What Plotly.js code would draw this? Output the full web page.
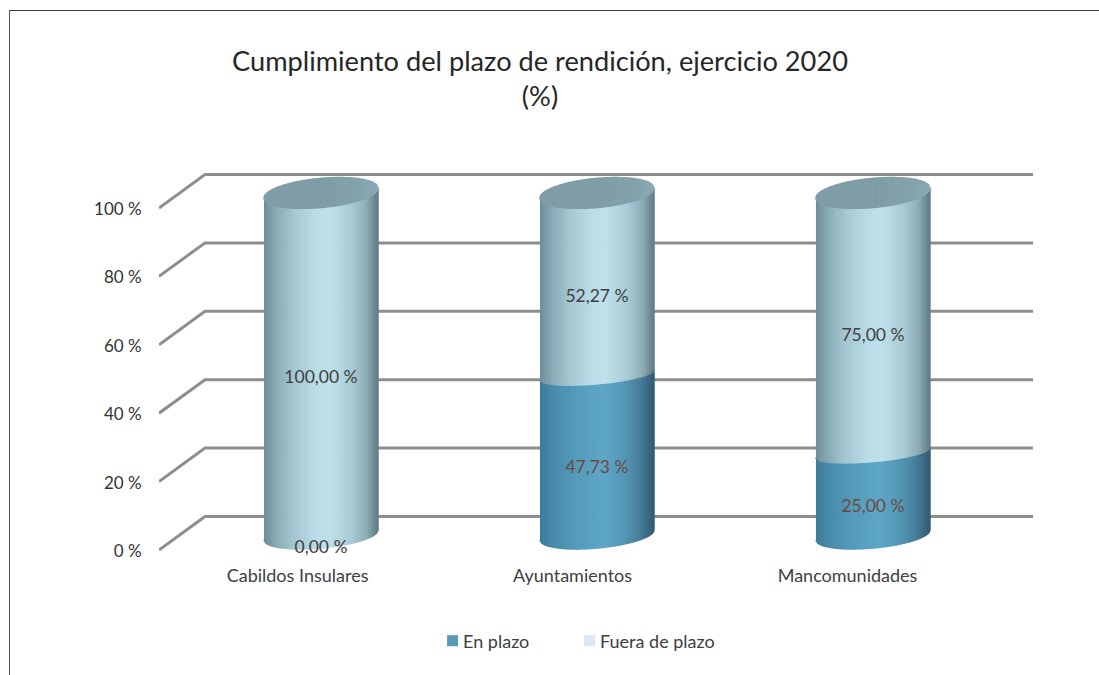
<!DOCTYPE html>
<html>
<head>
<meta charset="utf-8">
<script src="https://cdn.plot.ly/plotly-3.0.1.min.js"></script>
<style>
html,body{margin:0;padding:0;background:#fff;overflow:hidden}
#chart{position:absolute;left:0;top:0;width:1099px;height:675px}
#frame{position:absolute;left:9px;top:10px;width:1090px;height:665px;box-sizing:border-box;border-top:1.5px solid #3c3c3c;border-left:1.5px solid #555;pointer-events:none}
</style>
</head>
<body>
<div id="chart"></div>
<div id="frame"></div>
<script>
// ---- data ----
const categories = ['Cabildos Insulares', 'Ayuntamientos', 'Mancomunidades'];
const enPlazo = [0, 47.73, 25];
const fueraDePlazo = [100, 52.27, 75];
const yTicks = [0, 20, 40, 60, 80, 100];
const yTickLabels = ['0 %', '20 %', '40 %', '60 %', '80 %', '100 %'];
const fmt = v => v.toFixed(2).replace('.', ',') + ' %';

// ---- 3D look (drawn in axis units) ----
const PXY = 3.42, PXX = 276;              // pixels per unit
const yRange = [-2.924, 114.035], xRange = [-0.587, 2.58];
const depthWall = 9.8;                    // back wall offset of the gridlines
const xBack = (205 - 159) / PXX;          // horizontal offset of the wall
const halfW = 57 / PXX;
const tilt = 5 / PXY;
const endDepth = 4.4, midDepth = 3.5;
const bBottom = 13 / PXY, bMid = 9 / PXY, bTop = 14.5 / PXY;

const lightStops = [[-1,'#6d8c97'],[-0.8,'#87a9b4'],[-0.5,'#a3c6d1'],[-0.1,'#b9dce6'],[0.15,'#bee1eb'],[0.55,'#a8cad4'],[0.8,'#8dacb6'],[1,'#5f7b85']];
const darkStops  = [[-1,'#3b7b99'],[-0.8,'#4789a8'],[-0.4,'#5499b9'],[0.1,'#5ea6c7'],[0.45,'#5599b8'],[0.75,'#477f9b'],[1,'#315a70']];
const topStops   = [[-1,'#7f9da8'],[0,'#7f9da7'],[0.6,'#82a1ab'],[1,'#89a9b4']];

function hex(c){return [1,3,5].map(i=>parseInt(c.substr(i,2),16));}
function shade(stops,u){
  for(let i=1;i<stops.length;i++){
    if(u<=stops[i][0]){
      const t=(u-stops[i-1][0])/(stops[i][0]-stops[i-1][0]);
      const a=hex(stops[i-1][1]),b=hex(stops[i][1]);
      return 'rgb('+a.map((x,k)=>Math.round(x+(b[k]-x)*t)).join(',')+')';
    }
  }
  return stops[stops.length-1][1];
}
// level: axis value of the ellipse centre; b: half height; sign -1 = front edge
const edge = (level,b,sign) => u => level + tilt*u + sign*b*Math.sqrt(Math.max(0,1-u*u));

const traces = [];

// gridlines: front-left corner -> wall -> right end
yTicks.forEach(v => traces.push({
  x:[xRange[0], xRange[0]+xBack, xRange[1]],
  y:[v, v+depthWall, v+depthWall],
  mode:'lines', line:{color:'#8e8e8e',width:3}, hoverinfo:'skip', showlegend:false, cliponaxis:false
}));

function strips(cx, lower, upper, stops){
  const N=44, sub=3;
  for(let i=0;i<N;i++){
    const u0=-1+2*i/N, u1=-1+2*(i+1)/N, xs=[], ys=[];
    for(let k=0;k<=sub;k++){const u=u0+(u1-u0)*k/sub; xs.push(cx+halfW*u); ys.push(lower(u));}
    for(let k=sub;k>=0;k--){const u=u0+(u1-u0)*k/sub; xs.push(cx+halfW*u); ys.push(upper(u));}
    const col=shade(stops,(u0+u1)/2);
    traces.push({x:xs,y:ys,mode:'lines',fill:'toself',fillcolor:col,line:{color:col,width:1.6},
      hoverinfo:'skip',showlegend:false,cliponaxis:false});
  }
}

categories.forEach((c,i)=>{
  const a=enPlazo[i], total=a+fueraDePlazo[i];
  const bottomEdge=edge(endDepth,bBottom,-1);
  const midEdge=edge(a+midDepth,bMid,-1);
  const topLevel=total+endDepth;
  if(a>0) strips(i,bottomEdge,midEdge,darkStops);
  strips(i,a>0?midEdge:bottomEdge,edge(topLevel,bTop,-1),lightStops);
  strips(i,edge(topLevel,bTop,-1),edge(topLevel,bTop,1),topStops);
});

// data labels
traces.push({
  x:categories.map((c,i)=>i), y:enPlazo.map(v=>v===0?0.4:v/2),
  text:enPlazo.map(fmt), mode:'text', textposition:'middle center',
  textfont:{family:'Lato, sans-serif',size:17.5,color:enPlazo.map(v=>v===0?'#404040':'#6b4a42')},
  hoverinfo:'skip',showlegend:false,cliponaxis:false
});
traces.push({
  x:categories.map((c,i)=>i), y:fueraDePlazo.map((v,i)=>enPlazo[i]+v/2),
  text:fueraDePlazo.map(fmt), mode:'text', textposition:'middle center',
  textfont:{family:'Lato, sans-serif',size:17.5,color:'#404040'},
  hoverinfo:'skip',showlegend:false,cliponaxis:false
});

// legend entries
traces.push({x:[null],y:[null],name:'En plazo',mode:'markers',marker:{symbol:'square',size:11,color:'#5499b5'},hoverinfo:'skip'});
traces.push({x:[null],y:[null],name:'Fuera de plazo',mode:'markers',marker:{symbol:'square',size:11,color:'#dce8f4'},hoverinfo:'skip'});

const layout = {
  width:1099,height:675,
  margin:{l:159,r:66,t:160,b:115,pad:0},
  paper_bgcolor:'#fff',plot_bgcolor:'rgba(0,0,0,0)',
  title:{text:'Cumplimiento del plazo de rendición, ejercicio 2020<br>(%)',
    font:{family:'Lato, sans-serif',size:27.2,color:'#262626'},
    x:(540-159)/874,xanchor:'center',xref:'paper',y:0.895,yanchor:'middle'},
  xaxis:{range:xRange,showgrid:false,zeroline:false,showline:false,fixedrange:true,
    tickmode:'array',tickvals:categories.map((c,i)=>i*0.9965-0.085),ticktext:categories,
    ticks:'',ticklabelstandoff:3,tickfont:{family:'Lato, sans-serif',size:18,color:'#404040'}},
  yaxis:{range:yRange,showgrid:false,zeroline:false,showline:false,fixedrange:true,
    tickmode:'array',tickvals:yTicks,ticktext:yTickLabels,ticklabelshift:1,
    ticks:'outside',ticklen:13,tickcolor:'rgba(0,0,0,0)',tickfont:{family:'Lato, sans-serif',size:17,color:'#333333'}},
  showlegend:true,
  legend:{orientation:'h',x:0.313,xanchor:'left',y:-0.2025,yanchor:'middle',entrywidth:92,entrywidthmode:'pixels',
    font:{family:'Lato, sans-serif',size:18,color:'#404040'},itemclick:false,itemdoubleclick:false,bgcolor:'rgba(0,0,0,0)'}
};
Plotly.newPlot('chart',traces,layout,{displayModeBar:false,staticPlot:true}).then(gd=>{
  // pull the legend text closer to its swatch and let the last entry overflow the fixed entry width
  gd.querySelectorAll('.legend .legendtext').forEach(t=>t.setAttribute('x',parseFloat(t.getAttribute('x'))-9.5));
  gd.querySelectorAll('.legend .scrollbox, .legend').forEach(e=>{e.removeAttribute('clip-path');e.style.clipPath='none';});
});
</script>
</body>
</html>
